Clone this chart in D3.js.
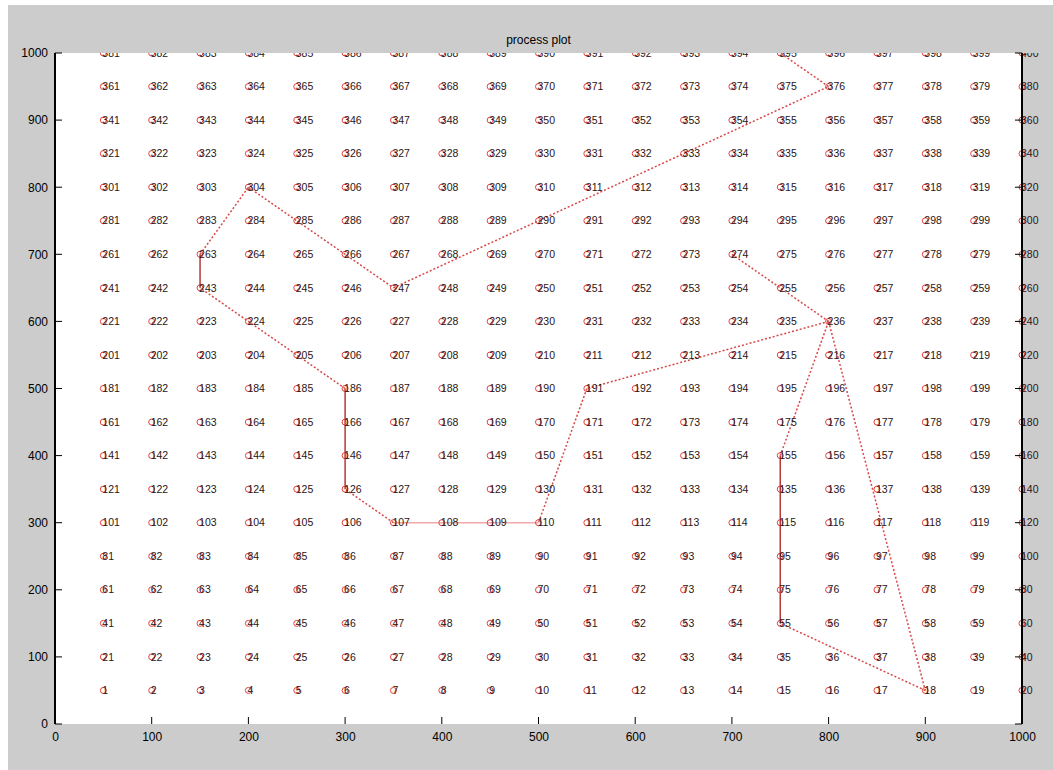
<!DOCTYPE html>
<html>
<head>
<meta charset="utf-8">
<script src="https://cdn.jsdelivr.net/npm/d3@7"></script>
<style>
  body { margin: 0; background: #fff; }
  svg { display: block; font-family: "Liberation Sans", Arial, sans-serif; }
</style>
</head>
<body>
<svg width="1053" height="770"></svg>
<script>
const gridX = [50, 100, 150, 200, 250, 300, 350, 400, 450, 500, 550, 600, 650, 700, 750, 800, 850, 900, 950, 1000];
const gridY = [50, 100, 150, 200, 250, 300, 350, 400, 450, 500, 550, 600, 650, 700, 750, 800, 850, 900, 950, 1000];
const tickValues = [0, 100, 200, 300, 400, 500, 600, 700, 800, 900, 1000];

// route through the grid, in order
const pathX = [700, 800, 900, 750, 750, 800, 550, 500, 350, 300, 300, 150, 150, 200, 350, 800, 750];
const pathY = [700, 600, 50, 150, 400, 600, 500, 300, 300, 350, 500, 650, 700, 800, 650, 950, 1000];

const titleText = "process plot";

const svg = d3.select("svg");
const width = +svg.attr("width");
const height = +svg.attr("height");

const x = d3.scaleLinear().domain([0, 1000]).range([55, 1022]);
const y = d3.scaleLinear().domain([0, 1000]).range([724, 53]);

// figure background
svg.append("rect")
  .attr("x", 8).attr("y", 5)
  .attr("width", width - 8).attr("height", height - 5)
  .attr("fill", "#cccccc");

svg.append("rect")
  .attr("x", x(0)).attr("y", y(1000))
  .attr("width", x(1000) - x(0)).attr("height", y(0) - y(1000))
  .attr("fill", "#fff");

svg.append("clipPath").attr("id", "topclip")
  .append("rect")
  .attr("x", 0).attr("y", y(1000))
  .attr("width", width).attr("height", height);

const points = [];
gridY.forEach((gy, r) => {
  gridX.forEach((gx, c) => {
    points.push({ x: gx, y: gy, label: r * gridX.length + c + 1 });
  });
});

const plot = svg.append("g").attr("clip-path", "url(#topclip)");

// path segments
const segs = d3.pairs(pathX.map((px, i) => [px, pathY[i]]));
plot.selectAll("line.seg")
  .data(segs)
  .enter()
  .append("line")
  .attr("class", "seg")
  .attr("x1", d => x(d[0][0]))
  .attr("y1", d => y(d[0][1]))
  .attr("x2", d => x(d[1][0]))
  .attr("y2", d => y(d[1][1]))
  .attr("stroke", d => d[0][0] === d[1][0] ? "#b83838" : d[0][1] === d[1][1] ? "#f4a8a8" : "#d84848")
  .attr("stroke-width", 1.5)
  .attr("stroke-dasharray", d => (d[0][0] === d[1][0] || d[0][1] === d[1][1]) ? null : "2,2");

// markers
plot.selectAll("circle.pt")
  .data(points)
  .enter()
  .append("circle")
  .attr("class", "pt")
  .attr("cx", d => x(d.x))
  .attr("cy", d => y(d.y))
  .attr("r", 3)
  .attr("fill", "none")
  .attr("stroke", "#e04040")
  .attr("stroke-width", 1);

// labels
plot.selectAll("text.lbl")
  .data(points)
  .enter()
  .append("text")
  .attr("class", "lbl")
  .attr("x", d => x(d.x) - 1)
  .attr("y", d => y(d.y))
  .attr("dy", "0.35em")
  .attr("font-size", 10.5)
  .attr("fill", "#2a1414")
  .text(d => d.label);

// axes
const xAxis = d3.axisBottom(x).tickValues(tickValues).tickFormat(d3.format("d")).tickSize(0).tickPadding(8);
const yAxis = d3.axisLeft(y).tickValues(tickValues).tickFormat(d3.format("d")).tickSize(0).tickPadding(7);

const gx = svg.append("g").attr("transform", `translate(0,${y(0)})`).call(xAxis);
gx.select(".domain").remove();
gx.selectAll("text").attr("font-size", 12).attr("fill", "#000");

const gy = svg.append("g").attr("transform", `translate(${x(0)},0)`).call(yAxis);
gy.select(".domain").remove();
gy.selectAll("text").attr("font-size", 12).attr("fill", "#000");

// inward ticks
svg.selectAll("line.xt")
  .data(tickValues)
  .enter()
  .append("line")
  .attr("x1", d => x(d)).attr("x2", d => x(d))
  .attr("y1", y(0)).attr("y2", y(0) - 7)
  .attr("stroke", "#000");

svg.selectAll("line.yl")
  .data(tickValues)
  .enter()
  .append("line")
  .attr("x1", x(0)).attr("x2", x(0) + 7)
  .attr("y1", d => y(d)).attr("y2", d => y(d))
  .attr("stroke", "#000");

svg.selectAll("line.yr")
  .data(tickValues)
  .enter()
  .append("line")
  .attr("x1", x(1000)).attr("x2", x(1000) - 7)
  .attr("y1", d => y(d)).attr("y2", d => y(d))
  .attr("stroke", "#000");

// side borders
[0, 1000].forEach(v => {
  svg.append("line")
    .attr("x1", x(v)).attr("x2", x(v))
    .attr("y1", y(0)).attr("y2", y(1000))
    .attr("stroke", "#000")
    .attr("stroke-width", 2);
});

svg.append("text")
  .attr("x", (x(0) + x(1000)) / 2)
  .attr("y", 44)
  .attr("text-anchor", "middle")
  .attr("font-size", 12)
  .attr("fill", "#000")
  .text(titleText);
</script>
</body>
</html>
